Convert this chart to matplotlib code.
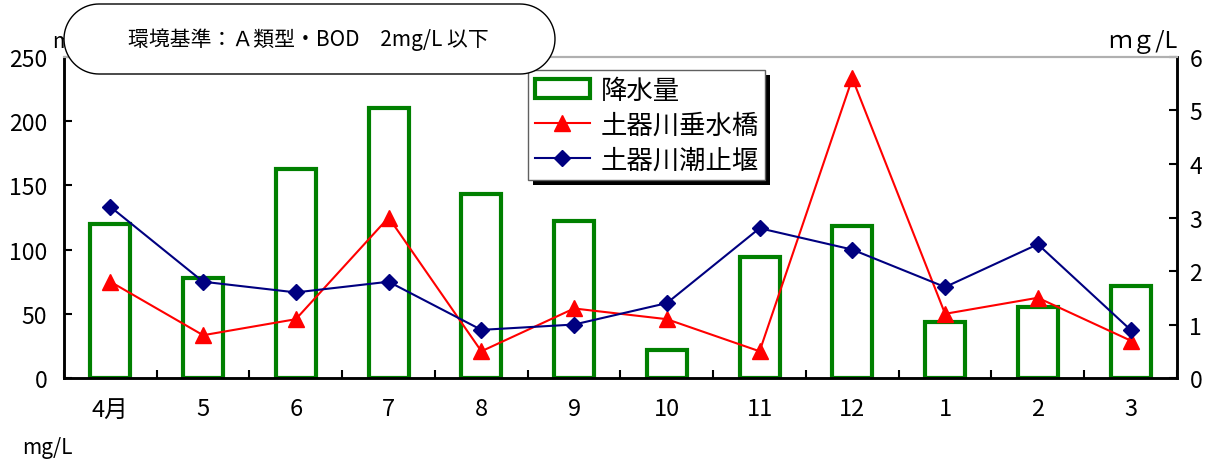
import numpy as np
import matplotlib
matplotlib.use('Agg')
import matplotlib.pyplot as plt
from matplotlib.patches import PathPatch, Rectangle
from matplotlib.path import Path
from matplotlib.transforms import IdentityTransform

plt.rcParams['font.family'] = ['Noto Sans CJK JP', 'DejaVu Sans']

months = ['4月', '5', '6', '7', '8', '9', '10', '11', '12', '1', '2', '3']
rain = [120, 78, 163, 210, 143, 122, 22, 94, 118, 44, 55, 72]
suisui = [1.8, 0.8, 1.1, 3.0, 0.5, 1.3, 1.1, 0.5, 5.6, 1.2, 1.5, 0.7]
shiodome = [3.2, 1.8, 1.6, 1.8, 0.9, 1.0, 1.4, 2.8, 2.4, 1.7, 2.5, 0.9]

W, H = 1212, 460
fig = plt.figure(figsize=(W / 100, H / 100), dpi=100)
ax = fig.add_axes([0.0528, 0.176, 0.9183, 0.698])
ax2 = ax.twinx()

x = np.arange(len(months))
bars = ax.bar(x, rain, width=0.43, facecolor='white', edgecolor='#008000',
              linewidth=3, label='降水量')
l1, = ax2.plot(x, suisui, color='red', lw=1.5, marker='^', ms=11,
               label='土器川垂水橋')
l2, = ax2.plot(x, shiodome, color='#000080', lw=1.5, marker='D', ms=8,
               label='土器川潮止堰')

ax.set_xlim(-0.5, 11.5)
ax.set_ylim(0, 250)
ax2.set_ylim(0, 6)
ax.set_yticks(range(0, 251, 50))
ax2.set_yticks(range(0, 7))

ax.set_xticks(np.arange(-0.5, 12, 1))
ax.set_xticklabels([])
ax.set_xticks(x, minor=True)
ax.set_xticklabels(months, minor=True)
ax.tick_params(axis='x', which='major', direction='in', length=6, width=1.5)
ax.tick_params(axis='x', which='minor', length=0, pad=14, labelsize=17)
ax.tick_params(axis='y', direction='in', length=6, width=1.5, pad=12, labelsize=16.5)
ax2.tick_params(axis='y', direction='in', length=6, width=1.5, pad=9, labelsize=16.5)

for a in (ax, ax2):
    a.spines['top'].set_color('#b0b0b0')
    a.spines['top'].set_linewidth(1.5)
    a.spines['left'].set_linewidth(1.8)
    a.spines['right'].set_linewidth(1.8)
    a.spines['bottom'].set_linewidth(1.8)

fig.text(52 / W, 1 - 42 / H, 'mm', fontsize=15, ha='left', va='center')
fig.text(1177 / W, 1 - 42 / H, 'ｍｇ/L', fontsize=17, ha='right', va='center')
fig.text(22 / W, 1 - 448 / H, 'mg/L', fontsize=15, ha='left', va='center')

# rounded label box with semicircular ends, in pixel coordinates
bx0, bx1, by0, by1 = 64, 555, H - 75, H - 5
r = (by1 - by0) / 2
cy = (by0 + by1) / 2
t = np.linspace(-np.pi / 2, np.pi / 2, 40)
right = np.column_stack([bx1 - r + r * np.cos(t), cy + r * np.sin(t)])
left = np.column_stack([bx0 + r - r * np.cos(t), cy - r * np.sin(t)])
verts = np.vstack([right, left, right[:1]])
box = PathPatch(Path(verts, closed=True), transform=IdentityTransform(),
                facecolor='white', edgecolor='black', lw=1, zorder=10)
fig.patches.append(box)
fig.text(308 / W, 1 - 40 / H, '環境基準：Ａ類型・BOD　2mg/L 以下', fontsize=15,
         ha='center', va='center', zorder=11)

leg = ax2.legend([bars, l1, l2], ['降水量', '土器川垂水橋', '土器川潮止堰'],
                 loc='upper left', bbox_to_anchor=(528 / W, 1 - 71 / H),
                 bbox_transform=fig.transFigure, fontsize=19, frameon=True,
                 fancybox=False, edgecolor='#606060', framealpha=1,
                 borderpad=0.25, labelspacing=0.3, handlelength=2.1,
                 handletextpad=0.4, borderaxespad=0)
leg.get_frame().set_linewidth(1)
leg.set_zorder(6)
fig.canvas.draw()
bb = leg.get_window_extent().transformed(fig.transFigure.inverted())
shadow = Rectangle((bb.x0 + 5 / W, bb.y0 - 5 / H), bb.width, bb.height,
                   transform=fig.transFigure, facecolor='black', zorder=5.5)
ax2.add_artist(shadow)

fig.savefig('out.png', dpi=100)
